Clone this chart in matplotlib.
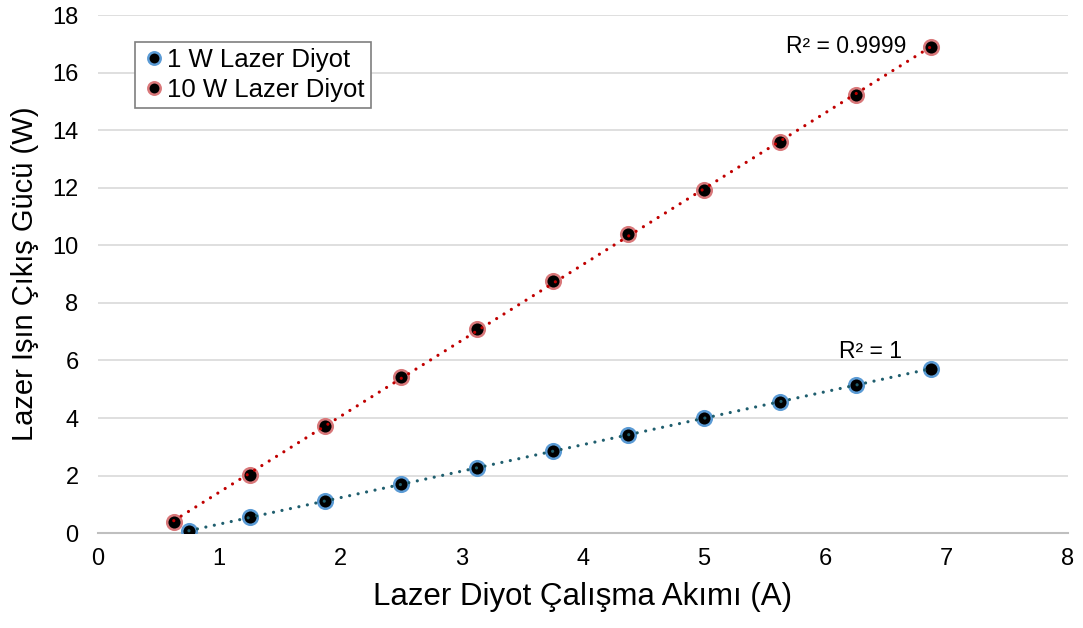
import numpy as np
import matplotlib.pyplot as plt

plt.rcParams['font.family'] = ['Liberation Sans', 'DejaVu Sans']

# Ölçüm verileri
akim_1w = [0.75, 1.25, 1.875, 2.5, 3.125, 3.75, 4.375, 5.0, 5.625, 6.25, 6.875]
guc_1w = [0.07, 0.56, 1.12, 1.70, 2.27, 2.84, 3.41, 3.99, 4.57, 5.15, 5.72]

akim_10w = [0.625, 1.25, 1.875, 2.5, 3.125, 3.75, 4.375, 5.0, 5.625, 6.25, 6.875]
guc_10w = [0.38, 2.02, 3.72, 5.42, 7.09, 8.76, 10.39, 11.92, 13.59, 15.22, 16.89]

fig = plt.figure(figsize=(10.83, 6.28), dpi=100)
ax = fig.add_axes([0.0905, 0.151, 0.8955, 0.825])

ax.plot(akim_1w, guc_1w, 'o', ms=10.5, mfc='black', mec='#5B9BD5', mew=1.8,
        label='1 W Lazer Diyot', zorder=3)
ax.plot(akim_10w, guc_10w, 'o', ms=10.5, mfc='black', mec='#D9787A', mew=1.8,
        label='10 W Lazer Diyot', zorder=3)

# Doğrusal eğilim çizgileri (noktalı)
for x, y, renk in [(akim_1w, guc_1w, '#1F5E6E'), (akim_10w, guc_10w, '#C00000')]:
    x = np.array(x)
    y = np.array(y)
    p = np.polyfit(x, y, 1)
    xs = np.array([x.min(), x.max()])
    ax.plot(xs, np.polyval(p, xs), linestyle=(0, (0.01, 2.7)), color=renk,
            lw=2.3, zorder=4, dash_capstyle='round')

ax.text(6.67, 16.9, 'R² = 0.9999', fontsize=16.5, ha='right', va='center')
ax.text(6.37, 6.3, 'R² = 1', fontsize=16.5, ha='center', va='center')

ax.set_xlim(0, 8)
ax.set_ylim(0, 18)
ax.set_xticks(range(0, 9))
ax.set_yticks(range(0, 19, 2))
ax.tick_params(labelsize=17, length=0)
ax.tick_params(axis='x', pad=11)
ax.tick_params(axis='y', pad=14)
ax.yaxis.grid(True, color='#D9D9D9', lw=1.2)
ax.set_axisbelow(True)
for s in ['top', 'right', 'left']:
    ax.spines[s].set_visible(False)
ax.spines['bottom'].set_color('#BFBFBF')
ax.spines['bottom'].set_linewidth(1.5)

ax.set_xlabel('Lazer Diyot Çalışma Akımı (A)', fontsize=22.5, va='center')
ax.set_ylabel('Lazer Işın Çıkış Gücü (W)', fontsize=21, va='center')
ax.xaxis.set_label_coords(0.5, -0.124)
ax.yaxis.set_label_coords(-0.075, 0.5)

leg = ax.legend(loc='upper left', bbox_to_anchor=(0.038, 0.948), fontsize=18.5,
                fancybox=False, edgecolor='#7F7F7F', framealpha=1,
                handletextpad=0.0, handlelength=1.0, borderpad=0.25,
                labelspacing=0.2, borderaxespad=0, markerscale=0.85)
leg.get_frame().set_linewidth(1.2)

fig.savefig('out.png', dpi=100)
